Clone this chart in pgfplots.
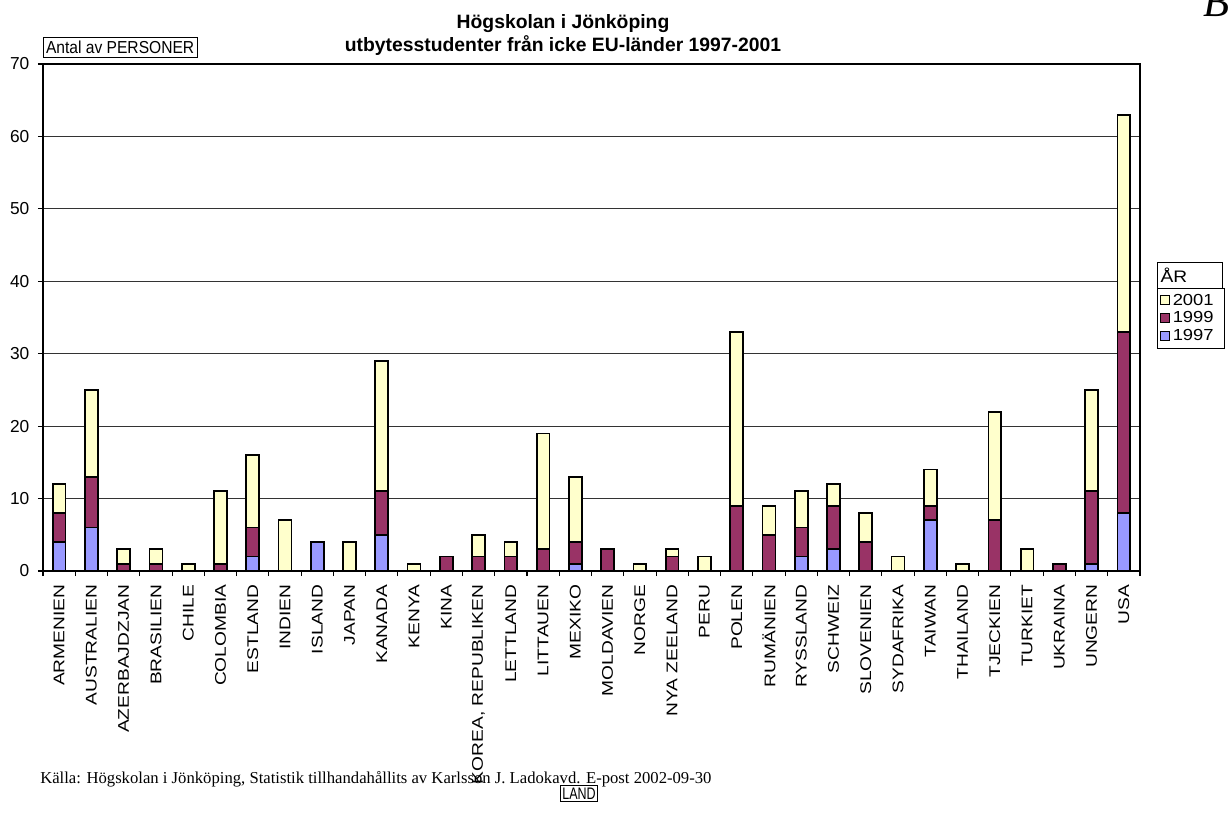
\documentclass[border=0pt]{standalone}
\usepackage{fontspec}
\setmainfont{Liberation Sans}
\newfontfamily\seriffont{Liberation Serif}
\newfontfamily\labfont[FakeStretch=1.24]{Liberation Sans}
\newfontfamily\legfont[FakeStretch=1.15]{Liberation Sans}
\newfontfamily\boxfont[FakeStretch=0.9]{Liberation Sans}
\newfontfamily\narrowfont[FakeStretch=0.75]{Liberation Sans}
\usepackage{pgfplots}
\usepackage{pgfplotstable}
\pgfplotsset{compat=1.18}
\definecolor{cA}{HTML}{9999FF}
\definecolor{cB}{HTML}{993366}
\definecolor{cC}{HTML}{FFFFCC}

\pgfplotstableread{
x y97 y99 y01
0 4 4 4
1 6 7 12
2 0 1 2
3 0 1 2
4 0 0 1
5 0 1 10
6 2 4 10
7 0 0 7
8 4 0 0
9 0 0 4
10 5 6 18
11 0 0 1
12 0 2 0
13 0 2 3
14 0 2 2
15 0 3 16
16 1 3 9
17 0 3 0
18 0 0 1
19 0 2 1
20 0 0 2
21 0 9 24
22 0 5 4
23 2 4 5
24 3 6 3
25 0 4 4
26 0 0 2
27 7 2 5
28 0 0 1
29 0 7 15
30 0 0 3
31 0 1 0
32 1 10 14
33 8 25 30
}\data

\begin{document}
\begin{tikzpicture}
\begin{axis}[
  at={(32.25pt,-428.25pt)}, anchor=south west,
  scale only axis, width=822.75pt, height=380.25pt,
  ybar stacked, bar width=0.4,
  xmin=-0.5, xmax=33.5, ymin=0, ymax=70,
  ytick={0,10,...,70},
  xtick={0,...,33},
  xticklabels={ARMENIEN,AUSTRALIEN,AZERBAJDZJAN,BRASILIEN,CHILE,COLOMBIA,ESTLAND,INDIEN,ISLAND,JAPAN,KANADA,KENYA,KINA,{KOREA, REPUBLIKEN},LETTLAND,LITTAUEN,MEXIKO,MOLDAVIEN,NORGE,NYA ZEELAND,PERU,POLEN,RUMÄNIEN,RYSSLAND,SCHWEIZ,SLOVENIEN,SYDAFRIKA,TAIWAN,THAILAND,TJECKIEN,TURKIET,UKRAINA,UNGERN,USA},
  minor xtick={-0.5,0.5,...,33.5},
  major x tick style={draw=none},
  minor x tick style={black, line width=0.8pt},
  minor tick length=3.75pt,
  major tick length=3.75pt,
  ytick style={black, line width=0.8pt},
  tick align=outside,
  xtick pos=bottom, ytick pos=left,
  axis line style={black, line width=0.9pt},
  ymajorgrids,
  major grid style={black!80, line width=0.6pt},
  /pgf/number format/assume math mode=true,
  yticklabel style={font=\fontsize{13}{14}\selectfont, xshift=-3pt},
  xticklabel style={rotate=90, anchor=east, font=\labfont\fontsize{11.6}{13}\selectfont},
  xticklabel shift=3pt,
  every axis plot/.append style={draw=black, line width=1.3pt},
  legend image code/.code={\draw[#1, line width=0.7pt] (0pt,-3.4pt) rectangle (6.8pt,3.4pt);},
  reverse legend,
  legend cell align=left,
  legend style={at={(1.0155,0.558)}, anchor=north west, draw=black, line width=0.6pt,
    font=\legfont\fontsize{12}{13}\selectfont, row sep=-0.5pt, inner xsep=2pt, inner ysep=2pt,
    text width=35pt},
]
\addplot[fill=cA] table[x=x, y=y97] {\data};
\addlegendentry{1997}
\addplot[fill=cB] table[x=x, y=y99] {\data};
\addlegendentry{1999}
\addplot[fill=cC] table[x=x, y=y01] {\data};
\addlegendentry{2001}
\end{axis}

\node[font=\bfseries\fontsize{14.5}{17.25}\selectfont, align=center] at (422.25pt,-25.9pt)
  {Högskolan i Jönköping\\utbytesstudenter från icke EU-länder 1997-2001};
\node[draw=black, line width=0.5pt, anchor=south west, inner xsep=2pt, inner ysep=0pt, minimum height=15pt,
  font=\boxfont\fontsize{13}{14}\selectfont] at (32.25pt,-43.5pt) {Antal av PERSONER};
\node[draw=black, line width=0.6pt, anchor=north west, minimum width=48.75pt, minimum height=19.5pt,
  inner xsep=2pt, text width=44pt, font=\legfont\fontsize{12.5}{13}\selectfont] at (867.75pt,-196.5pt) {ÅR};
\node[anchor=west, font=\seriffont\fontsize{12.5}{14}\selectfont, inner sep=0pt] at (30pt,-584.25pt)
  {Källa: Högskolan i Jönköping, Statistik tillhandahållits av Karlsson J. Ladokavd. E-post 2002-09-30};
\node[draw=black, line width=0.5pt, inner xsep=1.5pt, inner ysep=1.5pt,
  font=\narrowfont\fontsize{12.5}{13}\selectfont] at (434.25pt,-595.1pt) {LAND};
\node[anchor=south east, font=\seriffont\itshape\fontsize{32}{34}\selectfont, inner sep=0pt] at (922.5pt,-12.75pt) {B};
\pgfresetboundingbox
\useasboundingbox (0pt,0pt) rectangle (922.5pt,-617.25pt);
\end{tikzpicture}
\end{document}
